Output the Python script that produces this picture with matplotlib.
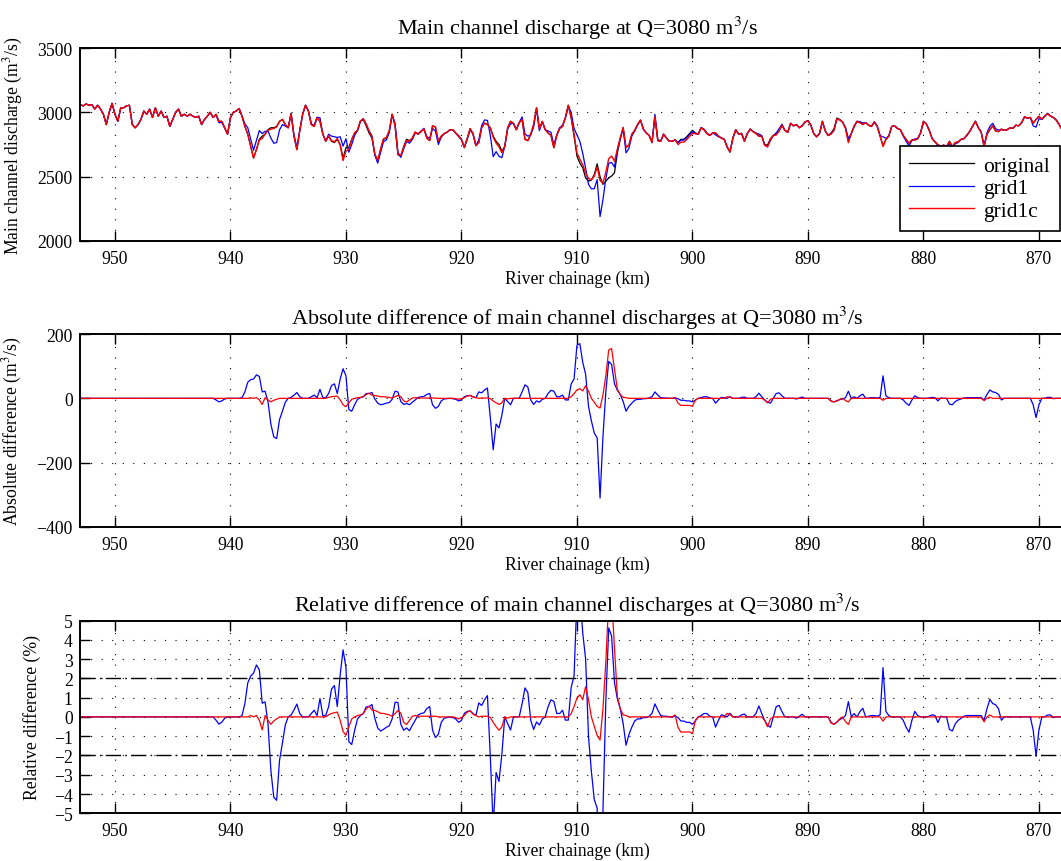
import numpy as np
import matplotlib
matplotlib.use("Agg")
import matplotlib.pyplot as plt

plt.rcParams['font.family'] = ['Liberation Serif', 'DejaVu Serif']
plt.rcParams['mathtext.fontset'] = 'stix'

# River chainage (km), every 0.25 km from 953 down to 868
chainage = np.arange(953.0, 867.99, -0.25)

# Main channel discharge of the original model (m3/s); one row per km: k, k-0.25, k-0.5, k-0.75
q_original = [
    3060, 3050, 3065, 3055,   # 953
    3060, 3025, 3055, 3025,   # 952
    2985, 2905, 3000, 3070,   # 951
    2985, 2930, 3035, 3035,   # 950
    3050, 3055, 2905, 2880,   # 949
    2905, 2945, 3010, 2985,   # 948
    3025, 2960, 3035, 2970,   # 947
    3010, 2960, 2970, 2890,   # 946
    2945, 3000, 3025, 2970,   # 945
    2985, 2970, 2985, 2970,   # 944
    2960, 2970, 2905, 2945,   # 943
    2970, 3000, 2960, 2985,   # 942
    2930, 2930, 2880, 2830,   # 941
    2960, 3000, 3010, 3030,   # 940
    2970, 2890, 2830, 2735,   # 939
    2645, 2710, 2790, 2815,   # 938
    2830, 2865, 2880, 2880,   # 937
    2890, 2930, 2945, 2905,   # 936
    2880, 2990, 2815, 2710,   # 935
    2855, 2985, 3055, 3010,   # 934
    2905, 2890, 2960, 2930,   # 933
    2830, 2775, 2815, 2775,   # 932
    2765, 2790, 2750, 2645,   # 931
    2725, 2725, 2790, 2840,   # 930
    2860, 2930, 2945, 2895,   # 929
    2840, 2800, 2670, 2620,   # 928
    2710, 2790, 2800, 2855,   # 927
    2985, 2895, 2670, 2660,   # 926
    2735, 2790, 2780, 2800,   # 925
    2845, 2830, 2850, 2870,   # 924
    2800, 2780, 2895, 2885,   # 923
    2775, 2815, 2835, 2845,   # 922
    2865, 2865, 2840, 2820,   # 921
    2790, 2725, 2790, 2865,   # 920
    2830, 2740, 2765, 2880,   # 919
    2915, 2905, 2880, 2815,   # 918
    2775, 2750, 2700, 2735,   # 917
    2880, 2930, 2915, 2865,   # 916
    2920, 2945, 2790, 2780,   # 915
    2830, 2905, 3035, 2870,   # 914
    2930, 2865, 2840, 2820,   # 913
    2725, 2820, 2875, 2890,   # 912
    2960, 3055, 2955, 2815,   # 911
    2660, 2605, 2570, 2490,   # 910
    2465, 2475, 2515, 2600,   # 909
    2500, 2440, 2465, 2490,   # 908
    2505, 2530, 2685, 2790,   # 907
    2880, 2725, 2745, 2830,   # 906
    2860, 2905, 2940, 2870,   # 905
    2840, 2820, 2765, 2965,   # 904
    2780, 2775, 2830, 2800,   # 903
    2775, 2775, 2785, 2765,   # 902
    2790, 2790, 2810, 2835,   # 901
    2860, 2840, 2830, 2880,   # 900
    2865, 2835, 2820, 2840,   # 899
    2840, 2815, 2800, 2790,   # 898
    2730, 2690, 2800, 2865,   # 897
    2830, 2835, 2775, 2835,   # 896
    2870, 2850, 2835, 2815,   # 895
    2815, 2750, 2745, 2795,   # 894
    2820, 2825, 2855, 2900,   # 893
    2860, 2845, 2915, 2895,   # 892
    2905, 2880, 2895, 2925,   # 891
    2935, 2900, 2835, 2810,   # 890
    2835, 2930, 2855, 2820,   # 889
    2840, 2870, 2955, 2945,   # 888
    2925, 2880, 2775, 2835,   # 887
    2890, 2930, 2920, 2905,   # 886
    2920, 2900, 2890, 2925,   # 885
    2890, 2815, 2740, 2790,   # 884
    2815, 2890, 2895, 2875,   # 883
    2865, 2820, 2790, 2760,   # 882
    2785, 2785, 2795, 2840,   # 881
    2930, 2910, 2860, 2795,   # 880
    2770, 2750, 2735, 2745,   # 879
    2735, 2775, 2735, 2765,   # 878
    2770, 2790, 2795, 2820,   # 877
    2850, 2890, 2930, 2880,   # 876
    2845, 2740, 2830, 2865,   # 875
    2895, 2855, 2850, 2870,   # 874
    2860, 2865, 2880, 2875,   # 873
    2900, 2895, 2920, 2965,   # 872
    2955, 2960, 2915, 2945,   # 871
    2970, 2945, 2970, 2990,   # 870
    2970, 2960, 2940, 2905,   # 869
    2865,                     # 868
]

# grid1 minus original (m3/s)
diff_grid1 = [
    0, 0, 0, 0,   # 953
    0, 0, 0, 0,   # 952
    0, 0, 0, 0,   # 951
    0, 0, 0, 0,   # 950
    0, 0, 0, 0,   # 949
    0, 0, 0, 0,   # 948
    0, 0, 0, 0,   # 947
    0, 0, 0, 0,   # 946
    0, 0, 0, 0,   # 945
    0, 0, 0, 0,   # 944
    0, 0, 0, 0,   # 943
    0, 0, 0, -5,   # 942
    -11, -8, -2, 0,   # 941
    0, 0, 0, 0,   # 940
    2, 20, 50, 58,   # 939
    60, 73, 68, 20,   # 938
    22, -10, -80, -120,   # 937
    -125, -66, -40, -12,   # 936
    0, 3, 10, 18,   # 935
    5, 0, 0, 0,   # 934
    5, 10, 2, 28,   # 933
    2, 2, 15, 40,   # 932
    45, 15, 60, 92,   # 931
    70, -35, -40, -20,   # 930
    -3, 2, 5, 15,   # 929
    15, 18, -2, -15,   # 928
    -20, -18, -15, -13,   # 927
    -3, 22, 20, -10,   # 926
    -19, -16, -20, -12,   # 925
    -5, 3, 5, 6,   # 924
    12, 15, -20, -31,   # 923
    -25, -8, -2, -1,   # 922
    0, -1, -3, -8,   # 921
    -5, 5, 8, 9,   # 920
    5, 2, 20, 17,   # 919
    26, 32, -60, -160,   # 918
    -80, -92, -52, 0,   # 917
    -10, -20, 0, 0,   # 916
    0, 20, 42, 35,   # 915
    -5, -19, -8, -12,   # 914
    -3, 0, 15, 25,   # 913
    22, 5, 5, 10,   # 912
    -5, -5, 45, 60,   # 911
    165, 170, 112, 75,   # 910
    -25, -70, -108, -123,   # 909
    -310, -120, 20, 115,   # 908
    105, 45, 25, 12,   # 907
    -10, -40, -25, -15,   # 906
    -6, -3, -3, -1,   # 905
    -1, 1, 5, 20,   # 904
    10, 2, 1, 1,   # 903
    0, 0, 1, -1,   # 902
    -6, -6, -8, -8,   # 901
    -11, -6, 0, 2,   # 900
    5, 5, 1, 0,   # 899
    -15, -5, 3, 2,   # 898
    0, 5, 0, 0,   # 897
    0, 3, 4, 0,   # 896
    0, 0, 5, 16,   # 895
    5, -5, -12, -15,   # 894
    0, 15, 17, 8,   # 893
    0, 0, 0, 0,   # 892
    -2, 1, 4, 0,   # 891
    0, 0, 0, 0,   # 890
    0, 0, 0, 0,   # 889
    -8, -11, -8, -4,   # 888
    -2, 2, 22, 0,   # 887
    5, 0, 8, 13,   # 886
    0, 1, 2, 2,   # 885
    1, 3, 70, 8,   # 884
    2, 0, 0, 0,   # 883
    0, -5, -15, -22,   # 882
    -5, 8, 2, 0,   # 881
    0, 0, 1, 3,   # 880
    2, -8, 1, 0,   # 879
    0, -18, -20, -10,   # 878
    -5, -2, 1, 2,   # 877
    2, 2, 2, 2,   # 876
    2, -5, 12, 26,   # 875
    20, 18, 12, -5,   # 874
    0, 0, 0, 0,   # 873
    0, 0, 0, 0,   # 872
    0, 0, -20, -60,   # 871
    -20, 0, 0, 3,   # 870
    3, -1, 0, 0,   # 869
    0,   # 868
]

# grid1c minus original (m3/s)
diff_grid1c = [
    0, 0, 0, 0,   # 953
    0, 0, 0, 0,   # 952
    0, 0, 0, 0,   # 951
    0, 0, 0, 0,   # 950
    0, 0, 0, 0,   # 949
    0, 0, 0, 0,   # 948
    0, 0, 0, 0,   # 947
    0, 0, 0, 0,   # 946
    0, 0, 0, 0,   # 945
    0, 0, 0, 0,   # 944
    0, 0, 0, 0,   # 943
    0, 0, 0, 0,   # 942
    0, 0, 0, 0,   # 941
    0, 0, 0, 0,   # 940
    0, 0, 0, 2,   # 939
    0, 2, -5, -19,   # 938
    2, -5, -11, -6,   # 937
    -3, 0, 0, 0,   # 936
    0, 0, 0, 0,   # 935
    0, 0, 0, 0,   # 934
    0, 0, 0, 0,   # 933
    0, 0, 3, 5,   # 932
    6, 7, -5, -20,   # 931
    -26, -14, -3, 0,   # 930
    2, 3, 5, 12,   # 929
    16, 10, 9, 7,   # 928
    5, 5, 4, 3,   # 927
    1, 5, 9, 5,   # 926
    -8, -11, -5, 1,   # 925
    2, 1, 1, 1,   # 924
    1, 1, 1, 1,   # 923
    0, 0, 0, 0,   # 922
    0, 0, -1, -3,   # 921
    -1, 2, 7, 9,   # 920
    4, 2, 0, 1,   # 919
    1, 1, -1, -8,   # 918
    -14, -19, -14, 0,   # 917
    -2, 0, 0, 0,   # 916
    0, 0, 0, 0,   # 915
    0, 0, 0, 0,   # 914
    0, 0, 0, 0,   # 913
    0, 0, 0, 0,   # 912
    0, 0, 5, 15,   # 911
    26, 30, 23, 39,   # 910
    22, 0, -12, -25,   # 909
    -30, 10, 70, 150,   # 908
    155, 90, 28, 12,   # 907
    3, 2, 0, 0,   # 906
    0, 0, 0, 0,   # 905
    0, 0, 0, 0,   # 904
    0, 0, 0, 0,   # 903
    0, 0, 3, -15,   # 902
    -22, -22, -22, -22,   # 901
    -25, -5, 0, 0,   # 900
    0, 0, 0, 0,   # 899
    0, 0, 0, 0,   # 898
    5, 3, 0, 0,   # 897
    0, 0, 0, 0,   # 896
    0, 0, 0, 0,   # 895
    0, -5, -14, -3,   # 894
    0, 0, 0, 0,   # 893
    0, 0, 0, 0,   # 892
    0, 0, 0, 0,   # 891
    0, 0, 0, 0,   # 890
    0, 0, 0, 0,   # 889
    -9, -11, -8, -3,   # 888
    0, -7, -11, 0,   # 887
    0, 0, 0, 0,   # 886
    0, 0, 0, 0,   # 885
    0, 0, -6, 0,   # 884
    0, 0, 0, 0,   # 883
    0, 0, 0, 0,   # 882
    0, 0, 0, 0,   # 881
    0, 0, 0, 0,   # 880
    0, 0, 0, 0,   # 879
    0, 0, 0, 0,   # 878
    0, 0, 0, 0,   # 877
    0, 0, 0, 0,   # 876
    0, -7, 0, 3,   # 875
    0, 0, 0, 0,   # 874
    0, 0, 0, 0,   # 873
    0, 0, 0, 0,   # 872
    0, 0, 0, 0,   # 871
    0, 0, 0, 0,   # 870
    0, 0, 0, 0,   # 869
    0,   # 868
]

series_labels = ['original', 'grid1', 'grid1c']
x_ticks = [950, 940, 930, 920, 910, 900, 890, 880, 870]
threshold_pct = [2, -2]

q_orig = np.array(q_original, dtype=float)
d1 = np.array(diff_grid1, dtype=float)
dc = np.array(diff_grid1c, dtype=float)
q_grid1 = q_orig + d1
q_grid1c = q_orig + dc
rel1 = d1 / q_orig * 100.0
relc = dc / q_orig * 100.0

W, H = 1061, 862
fig = plt.figure(figsize=(W / 100, H / 100), dpi=100)

left_px, right_px = 80.3, 1073.6
def add_axes(top_px, bottom_px):
    return fig.add_axes([left_px / W, 1 - bottom_px / H,
                         (right_px - left_px) / W, (bottom_px - top_px) / H])

ax1 = add_axes(49, 242)
ax2 = add_axes(335, 528)
ax3 = add_axes(621.5, 814.3)

fs_tick = 12.7
fs_label = 12.7
fs_title = 16
lw = 0.9
grid_style = dict(color='k', linestyle=(0, (1, 8.5)), linewidth=0.8)

def style(ax, yticks, ylim, ylabel, title, title_pad=7):
    ax.set_xlim(953, 867)
    ax.set_ylim(*ylim)
    ax.set_xticks(x_ticks)
    ax.set_yticks(yticks)
    ax.tick_params(direction='in', length=7, width=1.0, top=True, right=True,
                   labelsize=fs_tick, pad=5.5)
    ax.tick_params(axis='x', pad=6.5)
    for s in ax.spines.values():
        s.set_linewidth(1.4)
    ax.grid(True, **grid_style)
    ax.set_axisbelow(True)
    ax.set_xlabel('River chainage (km)', fontsize=fs_label, labelpad=2)
    ax.set_ylabel(ylabel, fontsize=fs_label, labelpad=9)
    ax.set_title(title, fontsize=fs_title, pad=title_pad)

# Top: discharges
l0, = ax1.plot(chainage, q_orig, color='k', lw=lw)
l1, = ax1.plot(chainage, q_grid1, color='b', lw=lw)
l2, = ax1.plot(chainage, q_grid1c, color='r', lw=1.0)
style(ax1, [2000, 2500, 3000, 3500], (2000, 3500),
      'Main channel discharge (m$^3$/s)',
      'Main channel discharge at Q=3080 m$^3$/s', title_pad=10.5)
leg = ax1.legend([l0, l1, l2], series_labels, loc='lower right',
                 bbox_to_anchor=(0.9863, 0.0534), borderaxespad=0,
                 fontsize=15.5, fancybox=False, framealpha=1, edgecolor='k',
                 handlelength=3.0, handletextpad=0.45, labelspacing=0.12,
                 borderpad=0.45)
leg.get_frame().set_linewidth(1.2)

# Middle: absolute differences
ax2.plot(chainage, d1, color='b', lw=lw)
ax2.plot(chainage, dc, color='r', lw=lw)
style(ax2, [-400, -200, 0, 200], (-400, 200),
      'Absolute difference (m$^3$/s)',
      'Absolute difference of main channel discharges at Q=3080 m$^3$/s')

# Bottom: relative differences with +/-2 % bounds
ax3.plot(chainage, rel1, color='b', lw=lw)
ax3.plot(chainage, relc, color='r', lw=lw)
for t in threshold_pct:
    ax3.axhline(t, color='k', lw=1.0, linestyle=(0, (11, 3, 1.2, 3)))
style(ax3, list(range(-5, 6)), (-5, 5),
      'Relative difference (%)',
      'Relative difference of main channel discharges at Q=3080 m$^3$/s')

fig.savefig('out.png', dpi=100)
